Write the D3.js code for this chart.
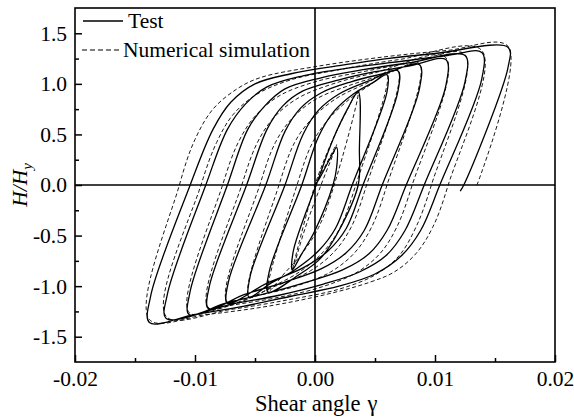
<!DOCTYPE html>
<html lang="en">
<head>
<meta charset="UTF-8">
<title>Hysteresis loops</title>
<script src="https://cdn.jsdelivr.net/npm/d3@7"></script>
<style>
  body { margin: 0; background: #fff; }
  svg { display: block; font-family: "Liberation Serif", "Times New Roman", serif; }
</style>
</head>
<body>
<div id="chart"></div>
<script>
// ticks
const xTicks = [-0.02, -0.01, 0, 0.01, 0.02];
const xMinor = [-0.015, -0.005, 0.005, 0.015];
const yTicks = [-1.5, -1.0, -0.5, 0, 0.5, 1.0, 1.5];
const yMinor = [-1.25, -0.75, -0.25, 0.25, 0.75, 1.25];

// test curve [shear angle, H/Hy]
const testPoints = [
  [0, 0], [0.0003, 0.05], [0.0012, 0.25], [0.0018, 0.37],
  [0.0018, 0.17], [0.0015, 0], [0.0000, -0.45], [-0.0012, -0.70], [-0.0019, -0.84],
  [-0.0018, -0.65], [0.0001, 0], [0.0015, 0.45], [0.0027, 0.75], [0.0036, 0.92],
  [0.0037, 0.35], [0.0036, 0], [0.0020, -0.45], [0.0005, -0.72], [-0.0015, -0.90], [-0.0039, -1.06],
  [-0.0038, -0.85], [-0.0011, 0], [0.0003, 0.48], [0.0016, 0.73], [0.0032, 0.90], [0.0048, 1.01], [0.0060, 1.09],
  [0.0060, 0.92], [0.0031, 0], [0.0017, -0.43], [0.0003, -0.65], [-0.0017, -0.84], [-0.0038, -0.98], [-0.0055, -1.11],
  [-0.0054, -0.90], [-0.0025, 0], [-0.0010, 0.50], [0.0003, 0.74], [0.0020, 0.90], [0.0045, 1.03], [0.0069, 1.13],
  [0.0069, 0.92], [0.0040, 0], [0.0026, -0.43], [0.0011, -0.65], [-0.0010, -0.82], [-0.0040, -0.97], [-0.0073, -1.17],
  [-0.0072, -0.95], [-0.0041, 0], [-0.0025, 0.53], [-0.0012, 0.76], [0.0005, 0.91], [0.0030, 1.02], [0.0060, 1.11], [0.0087, 1.19],
  [0.0087, 0.95], [0.0056, 0], [0.0041, -0.45], [0.0026, -0.67], [0.0005, -0.83], [-0.0025, -0.96], [-0.0058, -1.08], [-0.0089, -1.22],
  [-0.0088, -1.00], [-0.0057, 0], [-0.0040, 0.55], [-0.0027, 0.78], [-0.0010, 0.93], [0.0020, 1.04], [0.0050, 1.12], [0.0080, 1.18], [0.0109, 1.24],
  [0.0109, 0.98], [0.0076, 0], [0.0060, -0.45], [0.0045, -0.68], [0.0023, -0.84], [-0.0007, -0.96], [-0.0040, -1.07], [-0.0075, -1.17], [-0.0105, -1.28],
  [-0.0104, -1.05], [-0.0073, 0], [-0.0056, 0.55], [-0.0042, 0.78], [-0.0025, 0.95], [0.0005, 1.06], [0.0040, 1.14], [0.0080, 1.21], [0.0125, 1.28],
  [0.0125, 1.02], [0.0091, 0], [0.0075, -0.45], [0.0059, -0.70], [0.0037, -0.86], [0.0007, -0.98], [-0.0030, -1.09], [-0.0070, -1.18], [-0.0124, -1.32],
  [-0.0123, -1.08], [-0.0091, 0], [-0.0073, 0.55], [-0.0058, 0.80], [-0.0040, 0.97], [-0.0010, 1.08], [0.0030, 1.16], [0.0070, 1.22], [0.0110, 1.28], [0.0139, 1.31],
  [0.0139, 1.05], [0.0104, 0], [0.0088, -0.45], [0.0072, -0.70], [0.0050, -0.88], [0.0020, -1.00], [-0.0020, -1.10], [-0.0060, -1.20], [-0.0100, -1.28], [-0.0138, -1.36],
  [-0.0137, -1.10], [-0.0104, 0], [-0.0085, 0.55], [-0.0070, 0.82], [-0.0050, 1.00], [-0.0020, 1.10], [0.0020, 1.18], [0.0060, 1.25], [0.0100, 1.30], [0.0161, 1.36],
  [0.0161, 1.17], [0.0124, 0], [0.0121, -0.06]
];

// numerical simulation curve
const simPoints = [
  [0, 0], [0.0009, 0.20], [0.0018, 0.40],
  [0.0005, 0], [-0.0008, -0.42], [-0.0019, -0.85],
  [0.0000, 0], [0.0013, 0.40], [0.0025, 0.70], [0.0036, 0.93],
  [0.0016, 0], [0.0003, -0.42], [-0.0011, -0.68], [-0.0026, -0.88], [-0.0039, -1.05],
  [-0.0015, 0], [-0.0002, 0.42], [0.0012, 0.66], [0.0030, 0.86], [0.0046, 0.99], [0.0060, 1.10],
  [0.0034, 0], [0.0021, -0.42], [0.0007, -0.66], [-0.0013, -0.86], [-0.0035, -1.00], [-0.0055, -1.10],
  [-0.0030, 0], [-0.0017, 0.42], [-0.0003, 0.65], [0.0017, 0.85], [0.0042, 1.00], [0.0069, 1.14],
  [0.0043, 0], [0.0030, -0.42], [0.0016, -0.66], [-0.0004, -0.85], [-0.0033, -1.00], [-0.0073, -1.16],
  [-0.0046, 0], [-0.0033, 0.42], [-0.0019, 0.66], [0.0001, 0.85], [0.0030, 0.99], [0.0060, 1.10], [0.0087, 1.20],
  [0.0060, 0], [0.0047, -0.42], [0.0033, -0.67], [0.0013, -0.86], [-0.0016, -1.00], [-0.0050, -1.10], [-0.0089, -1.21],
  [-0.0061, 0], [-0.0048, 0.42], [-0.0034, 0.67], [-0.0014, 0.86], [0.0015, 1.00], [0.0050, 1.11], [0.0109, 1.26],
  [0.0081, 0], [0.0068, -0.42], [0.0054, -0.68], [0.0034, -0.87], [0.0005, -1.01], [-0.0030, -1.11], [-0.0070, -1.19], [-0.0105, -1.26],
  [-0.0077, 0], [-0.0064, 0.42], [-0.0050, 0.68], [-0.0030, 0.88], [0.0000, 1.02], [0.0040, 1.12], [0.0080, 1.21], [0.0125, 1.29],
  [0.0097, 0], [0.0084, -0.42], [0.0070, -0.70], [0.0050, -0.89], [0.0020, -1.03], [-0.0020, -1.13], [-0.0070, -1.23], [-0.0124, -1.30],
  [-0.0095, 0], [-0.0082, 0.42], [-0.0068, 0.70], [-0.0048, 0.90], [-0.0020, 1.04], [0.0020, 1.14], [0.0070, 1.24], [0.0139, 1.33],
  [0.0111, 0], [0.0098, -0.42], [0.0084, -0.68], [0.0066, -0.86], [0.0046, -0.96], [0.0010, -1.08], [-0.0040, -1.20], [-0.0090, -1.28], [-0.0138, -1.33],
  [-0.0113, 0], [-0.0100, 0.45], [-0.0085, 0.75], [-0.0065, 0.95], [-0.0046, 1.06], [0.0000, 1.17], [0.0060, 1.27], [0.0110, 1.33], [0.0161, 1.37],
  [0.0135, 0]
];

const W = 574, H = 418;
const margin = { top: 8, right: 19, bottom: 56, left: 75 };
const iw = W - margin.left - margin.right;
const ih = H - margin.top - margin.bottom;

const svg = d3.select("#chart").append("svg")
  .attr("width", W).attr("height", H);

const g = svg.append("g")
  .attr("transform", "translate(" + margin.left + "," + margin.top + ")");

const x = d3.scaleLinear().domain([-0.02, 0.02]).range([0, iw]);
const y = d3.scaleLinear().domain([-1.75, 1.75]).range([ih, 0]);

// clip the curves to the frame
g.append("clipPath").attr("id", "clip")
  .append("rect").attr("width", iw).attr("height", ih);

const line = d3.line()
  .x(function (d) { return x(d[0]); })
  .y(function (d) { return y(d[1]); })
  .curve(d3.curveCatmullRom.alpha(0.5));

const curves = g.append("g").attr("clip-path", "url(#clip)");

curves.append("path")
  .datum(simPoints)
  .attr("d", line)
  .attr("fill", "none")
  .attr("stroke", "#000")
  .attr("stroke-width", 0.9)
  .attr("stroke-dasharray", "4,2.5");

curves.append("path")
  .datum(testPoints)
  .attr("d", line)
  .attr("fill", "none")
  .attr("stroke", "#000")
  .attr("stroke-width", 1.3)
  .attr("stroke-linejoin", "round");

// zero lines
g.append("line")
  .attr("x1", x(0)).attr("x2", x(0)).attr("y1", 0).attr("y2", ih)
  .attr("stroke", "#000").attr("stroke-width", 1.6);
g.append("line")
  .attr("x1", 0).attr("x2", iw).attr("y1", y(0)).attr("y2", y(0))
  .attr("stroke", "#000").attr("stroke-width", 1.6);

// axes, ticks inward
g.append("g")
  .attr("transform", "translate(0," + ih + ")")
  .call(d3.axisBottom(x).tickValues(xTicks).tickSize(-7).tickPadding(9)
    .tickFormat(d3.format(".2f")));
g.append("g")
  .attr("transform", "translate(0," + ih + ")")
  .call(d3.axisBottom(x).tickValues(xMinor).tickSize(-4).tickFormat(""));

g.append("g")
  .call(d3.axisLeft(y).tickValues(yTicks).tickSize(-7).tickPadding(8)
    .tickFormat(d3.format(".1f")));
g.append("g")
  .call(d3.axisLeft(y).tickValues(yMinor).tickSize(-4).tickFormat(""));

g.selectAll(".domain").remove();
g.selectAll(".tick line").attr("stroke", "#000").attr("stroke-width", 1.5);
g.selectAll(".tick text")
  .attr("font-family", "Liberation Serif, serif")
  .attr("font-size", 21.5)
  .attr("fill", "#000")
  .text(function () { return this.textContent.replace("\u2212", "-"); });

// frame
g.append("rect")
  .attr("width", iw).attr("height", ih)
  .attr("fill", "none").attr("stroke", "#000").attr("stroke-width", 1.6);

// axis titles
const xt = svg.append("text")
  .attr("x", 255).attr("y", 411)
  .attr("font-size", 22.5);
xt.append("tspan").text("Shear angle");
xt.append("tspan").attr("dx", 7).text("\u03B3");

const yt = svg.append("text")
  .attr("transform", "translate(27," + (margin.top + y(0)) + ") rotate(-90)")
  .attr("text-anchor", "middle")
  .attr("font-size", 21.5)
  .attr("font-style", "italic");
yt.append("tspan").text("H/H");
yt.append("tspan").attr("font-size", 15).attr("dy", 5).text("y");

// legend
const legend = svg.append("g");
legend.append("line")
  .attr("x1", 83).attr("x2", 123).attr("y1", 21).attr("y2", 21)
  .attr("stroke", "#000").attr("stroke-width", 1.3);
legend.append("text")
  .attr("x", 128).attr("y", 28).attr("font-size", 21.5).text("Test");
legend.append("line")
  .attr("x1", 82).attr("x2", 122).attr("y1", 50).attr("y2", 50)
  .attr("stroke", "#000").attr("stroke-width", 1)
  .attr("stroke-dasharray", "5,3");
legend.append("text")
  .attr("x", 123).attr("y", 57).attr("font-size", 21.5).text("Numerical simulation");
</script>
</body>
</html>
